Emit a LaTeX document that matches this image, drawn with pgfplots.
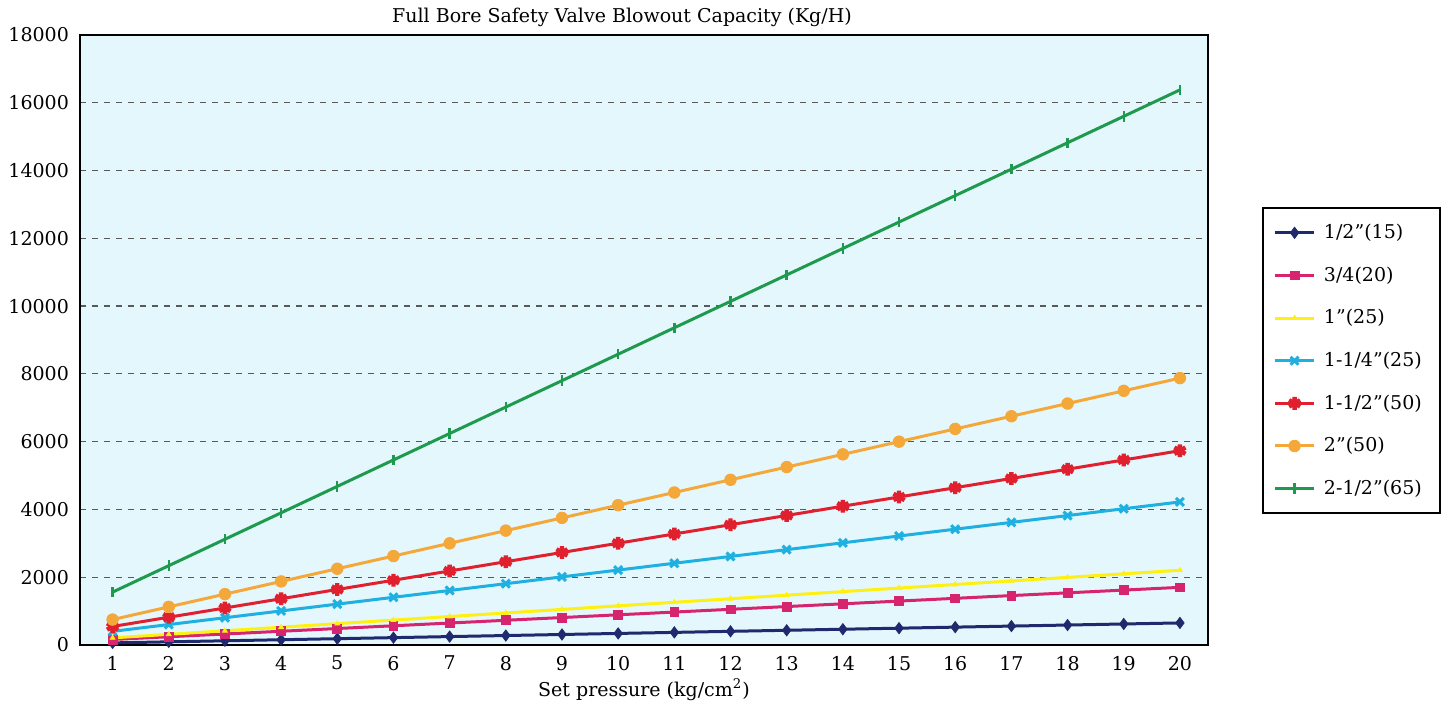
\documentclass[border=0pt]{standalone}
\usepackage{fontspec}
\setmainfont{DejaVu Serif}
\usepackage{pgfplots}
\pgfplotsset{compat=1.18}
\newcommand{\q}{\symbol{34}}
\definecolor{cnavy}{RGB}{31,42,110}
\definecolor{cpink}{RGB}{214,36,110}
\definecolor{cyell}{RGB}{255,240,20}
\definecolor{ccyan}{RGB}{30,176,224}
\definecolor{cred}{RGB}{224,32,46}
\definecolor{corange}{RGB}{245,168,58}
\definecolor{cgreen}{RGB}{30,154,78}
\definecolor{bgc}{RGB}{228,247,252}

\begin{document}
\begin{tikzpicture}
\begin{axis}[
    scale only axis,
    width=564pt, height=305pt,
    xmin=0.42, xmax=20.5,
    ymin=0, ymax=18000,
    xtick={1,...,20},
    ytick={0,2000,...,18000},
    major tick length=0pt,
    /pgf/number format/assume math mode=true,
    /pgf/number format/1000 sep={},
    scaled y ticks=false,
    tick label style={font=\fontsize{9.5}{11}\selectfont},
    yticklabel style={xshift=-2pt},
    xticklabel style={yshift=-2pt},
    axis line style={line width=1.2pt, black},
    axis background/.style={fill=bgc},
    ymajorgrids,
    major grid style={gray!70!black, dash pattern=on 3pt off 3pt, line width=0.6pt},
    title={Full Bore Safety Valve Blowout Capacity (Kg/H)},
    every axis title shift=0pt,
    title style={font=\fontsize{9.5}{11}\selectfont, inner sep=0pt, at={(axis description cs:0.5,1)}, anchor=center, xshift=-11pt, yshift=9pt},
    xlabel={Set pressure (kg/cm\textsuperscript{2})},
    xlabel style={font=\fontsize{9.5}{11}\selectfont, inner sep=0pt, at={(axis description cs:0.5,0)}, anchor=center, yshift=-22.5pt},
    legend style={at={(1.048,0.466)}, anchor=west, draw=black, line width=1pt, fill=white,
        font=\fontsize{9.5}{11}\selectfont, row sep=8.6pt, inner xsep=5pt, inner ysep=6pt,
        nodes={inner xsep=4pt}},
    legend cell align=left,
    legend image code/.code={\draw[mark repeat=2,mark phase=2] plot coordinates {(0cm,0cm) (0.35cm,0cm) (0.7cm,0cm)};},
    every axis plot/.append style={line width=1.5pt},
]

% 1/2"(15)
\addplot[cnavy, mark=diamond*, mark size=2.8pt, mark options={line width=0.4pt}] coordinates {
(1,62) (2,93) (3,124) (4,155) (5,186) (6,217) (7,248) (8,279) (9,310) (10,341)
(11,372) (12,403) (13,434) (14,465) (15,496) (16,527) (17,558) (18,589) (19,620) (20,651)};
\addlegendentry{1/2\q(15)}

% 3/4(20)
\addplot[cpink, mark=square*, mark size=2.2pt, mark options={line width=0.4pt}] coordinates {
(1,162) (2,243) (3,324) (4,405) (5,486) (6,567) (7,648) (8,729) (9,810) (10,891)
(11,972) (12,1053) (13,1134) (14,1215) (15,1296) (16,1377) (17,1458) (18,1539) (19,1620) (20,1701)};
\addlegendentry{3/4(20)}

% 1"(25)
\addplot[cyell, mark=triangle*, mark size=1.4pt, mark options={line width=0.4pt}] coordinates {
(1,210) (2,315) (3,420) (4,525) (5,630) (6,735) (7,840) (8,945) (9,1050) (10,1155)
(11,1260) (12,1365) (13,1470) (14,1575) (15,1680) (16,1785) (17,1890) (18,1995) (19,2100) (20,2205)};
\addlegendentry{1\q(25)}

% 1-1/4"(25)
\addplot[ccyan, mark=x, mark size=2.8pt, mark options={line width=1.5pt}] coordinates {
(1,402) (2,603) (3,804) (4,1005) (5,1206) (6,1407) (7,1608) (8,1809) (9,2010) (10,2211)
(11,2412) (12,2613) (13,2814) (14,3015) (15,3216) (16,3417) (17,3618) (18,3819) (19,4020) (20,4221)};
\addlegendentry{1-1/4\q(25)}

% 1-1/2"(50)
\addplot[cred, mark=asterisk, mark size=3.2pt, mark options={line width=2.2pt}] coordinates {
(1,546) (2,819) (3,1092) (4,1365) (5,1638) (6,1911) (7,2184) (8,2457) (9,2730) (10,3003)
(11,3276) (12,3549) (13,3822) (14,4095) (15,4368) (16,4641) (17,4914) (18,5187) (19,5460) (20,5733)};
\addlegendentry{1-1/2\q(50)}

% 2"(50)
\addplot[corange, mark=*, mark size=2.9pt, mark options={line width=0.4pt}] coordinates {
(1,750) (2,1125) (3,1500) (4,1875) (5,2250) (6,2625) (7,3000) (8,3375) (9,3750) (10,4125)
(11,4500) (12,4875) (13,5250) (14,5625) (15,6000) (16,6375) (17,6750) (18,7125) (19,7500) (20,7875)};
\addlegendentry{2\q(50)}

% 2-1/2"(65)
\addplot[cgreen, mark=|, mark size=2.6pt, mark options={line width=1.2pt}] coordinates {
(1,1560) (2,2340) (3,3120) (4,3900) (5,4680) (6,5460) (7,6240) (8,7020) (9,7800) (10,8580)
(11,9360) (12,10140) (13,10920) (14,11700) (15,12480) (16,13260) (17,14040) (18,14820) (19,15600) (20,16380)};
\addlegendentry{2-1/2\q(65)}

\end{axis}
\path ([xshift=-40pt,yshift=-29.5pt]current axis.south west) rectangle ([xshift=118.5pt,yshift=17.5pt]current axis.north east);
\end{tikzpicture}
\end{document}
